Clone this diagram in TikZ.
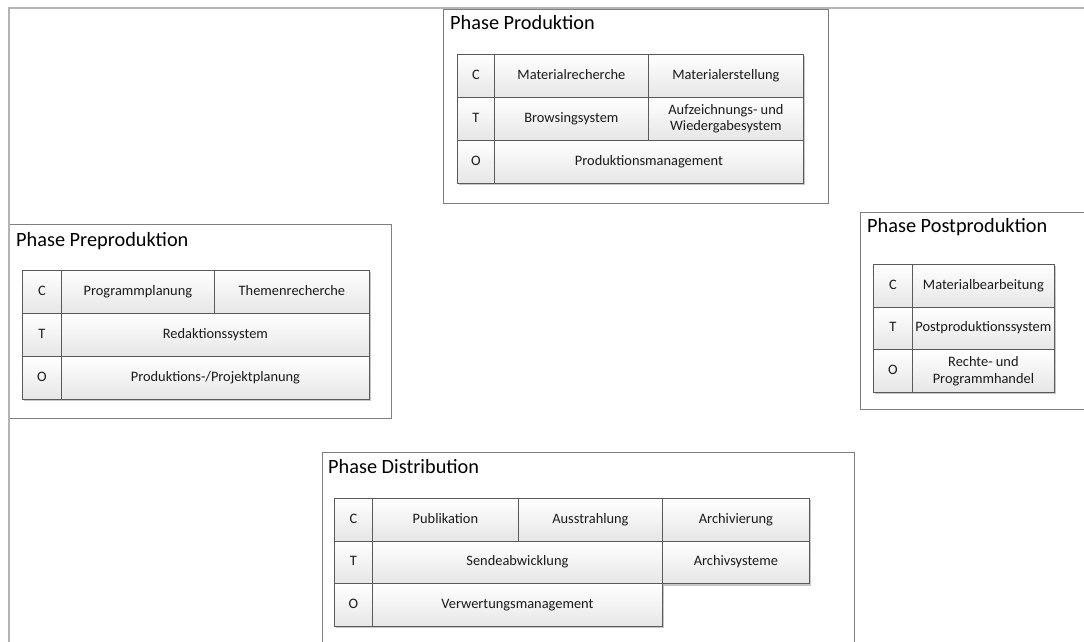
\documentclass[tikz,border=0pt]{standalone}
\usepackage{fontspec}
\setmainfont{Carlito}
\usetikzlibrary{shadows}
\definecolor{framegray}{HTML}{B4B4B4}
\definecolor{boxgray}{HTML}{7F7F7F}
\definecolor{cellline}{HTML}{5A5A5A}
\definecolor{cellbottom}{HTML}{E6E6E6}
\definecolor{celltext}{HTML}{1A1A1A}
\begin{document}
\begin{tikzpicture}[x=1pt,y=-1pt,
  phase/.style={draw=boxgray, line width=0.9pt, anchor=north west, inner sep=0pt, fill=white},
  phasetitle/.style={anchor=base west, inner sep=0pt, font=\fontsize{20.3}{22}\selectfont},
  cell/.style={draw=cellline, line width=0.8pt, anchor=north west, inner sep=0pt,
    top color=white, bottom color=cellbottom, align=center, text=celltext,
    font=\fontsize{14.4}{16.5}\selectfont,
    drop shadow={shadow xshift=1.8pt, shadow yshift=-1.8pt, opacity=0.22, fill=black}},
  oneline/.style={cell, text height=9.8pt, text depth=3.2pt},
]
\useasboundingbox (0,0) rectangle (1084,641);
\clip (0,0) rectangle (1084,641);

% ---- Phase Produktion ----
\node[phase, minimum width=385pt, minimum height=194pt] (prodbox) at (443,9) {};
\node[phasetitle] (prodtitle) at (450,29) {Phase Produktion};
\begin{scope}[every node/.append style={minimum height=43pt}]
\node[oneline, minimum width=37pt]  (pc)  at (457,54)  {C};
\node[oneline, minimum width=154pt] (pc1) at (494,54)  {Materialrecherche};
\node[oneline, minimum width=155pt] (pc2) at (648,54)  {Materialerstellung};
\node[oneline, minimum width=37pt]  (pt)  at (457,97)  {T};
\node[oneline, minimum width=154pt] (pt1) at (494,97)  {Browsingsystem};
\node[cell,    minimum width=155pt] (pt2) at (648,97)  {Aufzeichnungs- und\\Wiedergabesystem};
\node[oneline, minimum width=37pt]  (po)  at (457,140) {O};
\node[oneline, minimum width=309pt] (po1) at (494,140) {Produktionsmanagement};
\end{scope}

% ---- Phase Preproduktion ----
\node[phase, minimum width=382pt, minimum height=194pt] (prebox) at (9,224) {};
\node[phasetitle] (pretitle) at (16,246) {Phase Preproduktion};
\begin{scope}[every node/.append style={minimum height=43pt}]
\node[oneline, minimum width=39pt]  (vc)  at (22,270)  {C};
\node[oneline, minimum width=153pt] (vc1) at (61,270)  {Programmplanung};
\node[oneline, minimum width=155pt] (vc2) at (214,270) {Themenrecherche};
\node[oneline, minimum width=39pt]  (vt)  at (22,313)  {T};
\node[oneline, minimum width=308pt] (vt1) at (61,313)  {Redaktionssystem};
\node[oneline, minimum width=39pt]  (vo)  at (22,356)  {O};
\node[oneline, minimum width=308pt] (vo1) at (61,356)  {Produktions-/Projektplanung};
\end{scope}

% ---- Phase Postproduktion ----
\node[phase, minimum width=240pt, minimum height=197pt] (postbox) at (860,212) {};
\node[phasetitle] (posttitle) at (867,232) {Phase Postproduktion};
\begin{scope}[every node/.append style={minimum height=42.7pt}]
\node[oneline, minimum width=39pt]  (sc)  at (873,264)   {C};
\node[oneline, minimum width=142pt] (sc1) at (912,264)   {Materialbearbeitung};
\node[oneline, minimum width=39pt]  (st)  at (873,306.7) {T};
\node[oneline, minimum width=142pt] (st1) at (912,306.7) {Postproduktionssystem};
\node[oneline, minimum width=39pt]  (so)  at (873,349.4) {O};
\node[cell,    minimum width=142pt] (so1) at (912,349.4) {Rechte- und\\Programmhandel};
\end{scope}

% ---- Phase Distribution ----
\node[phase, minimum width=532pt, minimum height=220pt] (distbox) at (322,452) {};
\node[phasetitle] (disttitle) at (328,473) {Phase Distribution};
\begin{scope}[every node/.append style={minimum height=42.7pt}]
\node[oneline, minimum width=38pt]  (dc)  at (334,498)   {C};
\node[oneline, minimum width=146pt] (dc1) at (372,498)   {Publikation};
\node[oneline, minimum width=144pt] (dc2) at (518,498)   {Ausstrahlung};
\node[oneline, minimum width=147pt] (dc3) at (662,498)   {Archivierung};
\node[oneline, minimum width=38pt]  (dt)  at (334,540.7) {T};
\node[oneline, minimum width=290pt] (dt1) at (372,540.7) {Sendeabwicklung};
\node[oneline, minimum width=147pt] (dt2) at (662,540.7) {Archivsysteme};
\node[oneline, minimum width=38pt]  (do)  at (334,583.4) {O};
\node[oneline, minimum width=290pt] (do1) at (372,583.4) {Verwertungsmanagement};
\end{scope}

% ---- outer frame ----
\draw[framegray, line width=1.6pt] (1090,8) -- (9,8) -- (9,650);
\end{tikzpicture}
\end{document}
